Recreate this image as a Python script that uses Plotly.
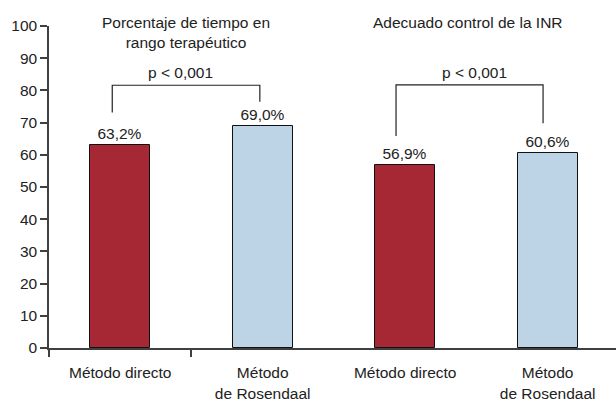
import plotly.graph_objects as go

categories = ["Método directo", "Método<br>de Rosendaal", "Método directo", "Método<br>de Rosendaal"]
values = [63.2, 69.0, 56.9, 60.6]
colors = ["#A52834", "#BDD4E7", "#A52834", "#BDD4E7"]
group_titles = ["Porcentaje de tiempo en<br>rango terapéutico", "Adecuado control de la INR"]
p_labels = ["p < 0,001", "p < 0,001"]
y_ticks = [0, 10, 20, 30, 40, 50, 60, 70, 80, 90, 100]

FONT = "Liberation Sans, Arial, sans-serif"
AX = "#404040"
TXT = "#222222"

xpos = list(range(len(values)))
text = [f"{v:.1f}".replace(".", ",") + "%" for v in values]

fig = go.Figure()
fig.add_trace(go.Bar(
    x=xpos, y=values, width=0.42,
    marker=dict(color=colors, line=dict(color="#111111", width=1)),
    text=text, textposition="outside", cliponaxis=False,
    textfont=dict(family=FONT, size=15.5, color=TXT),
    showlegend=False, hoverinfo="skip",
))


def bracket(x0, x1, yl, yr, ytop):
    return dict(type="path", xref="x", yref="y",
                path=f"M {x0},{yl} L {x0},{ytop} L {x1},{ytop} L {x1},{yr}",
                line=dict(color=TXT, width=1.2))


shapes = [
    bracket(-0.056, 0.98, 73.1, 76.5, 81.6),
    bracket(1.936, 2.968, 65.8, 69.8, 81.7),
]

annotations = [
    dict(x=0.46, y=0.981, xref="x", yref="paper", text=group_titles[0], showarrow=False,
         font=dict(family=FONT, size=15.5, color=TXT), yanchor="middle", align="center"),
    dict(x=2.44, y=1.012, xref="x", yref="paper", text=group_titles[1], showarrow=False,
         font=dict(family=FONT, size=15.5, color=TXT), yanchor="middle", align="center"),
    dict(x=0.42, y=85.5, xref="x", yref="y", text=p_labels[0], showarrow=False,
         font=dict(family=FONT, size=15.5, color=TXT), yanchor="middle"),
    dict(x=2.49, y=85.5, xref="x", yref="y", text=p_labels[1], showarrow=False,
         font=dict(family=FONT, size=15.5, color=TXT), yanchor="middle"),
]

fig.update_layout(
    width=616, height=402,
    margin=dict(l=49, r=0, t=26, b=52),
    paper_bgcolor="white", plot_bgcolor="white",
    font=dict(family=FONT, size=15.5, color=TXT),
    shapes=shapes, annotations=annotations,
    bargap=0,
)
fig.update_xaxes(
    range=[-0.5, 3.48], tickmode="array", tickvals=xpos, ticktext=categories,
    ticks="outside", ticklen=10, tickcolor="rgba(0,0,0,0)",
    showline=True, linecolor=AX, linewidth=1.5, showgrid=False, zeroline=False,
    tickfont=dict(family=FONT, size=15.5, color=TXT),
    minor=dict(tickmode="array", tickvals=[-0.5, 0.5], ticks="outside", ticklen=7,
               tickcolor=AX, tickwidth=1.5, showgrid=False),
)
fig.update_yaxes(
    range=[0, 100], tickmode="array", tickvals=y_ticks,
    ticks="outside", ticklen=7, tickcolor=AX, tickwidth=1.5,
    showline=True, linecolor=AX, linewidth=1.5, showgrid=False, zeroline=False,
    tickfont=dict(family=FONT, size=15.5, color=TXT),
)

fig.write_html("out.html", config={"displayModeBar": False},
               post_script="document.body.style.margin='0';document.body.style.padding='0';")
